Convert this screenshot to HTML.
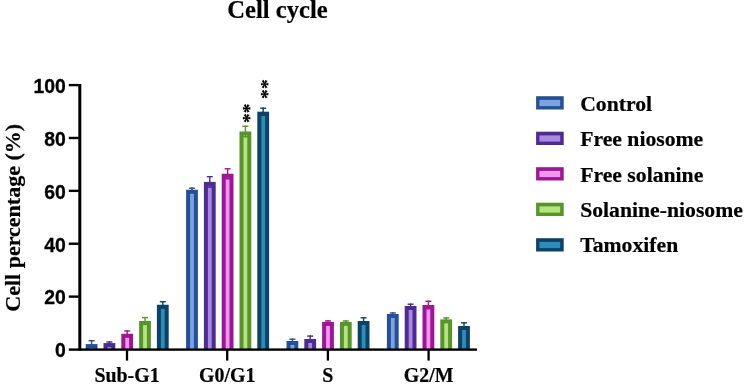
<!DOCTYPE html>
<html><head><meta charset="utf-8"><title>Cell cycle</title>
<style>
html,body{margin:0;padding:0;background:#fff;}
body{width:744px;height:385px;overflow:hidden;}
svg{display:block;will-change:transform;}
.serif{font-family:"Liberation Serif",serif;font-weight:bold;fill:#000;stroke:#000;stroke-width:0.2px;}
.sans{font-family:"Liberation Sans",sans-serif;font-weight:bold;fill:#000;stroke:#000;stroke-width:0.3px;}
</style></head><body>
<svg width="744" height="385" viewBox="0 0 744 385">
<rect width="744" height="385" fill="#fff"/>
<text x="277.5" y="17.6" text-anchor="middle" class="serif" font-size="24.6">Cell cycle</text>
<text transform="translate(19.6,217.8) rotate(-90)" text-anchor="middle" class="serif" font-size="22">Cell percentage (%)</text>
<rect x="90.90" y="340.00" width="1.4" height="5.10" fill="#254F99"/>
<rect x="88.60" y="340.00" width="6" height="1.4" fill="#254F99"/>
<rect x="85.70" y="344.10" width="11.80" height="5.40" fill="#254F99"/>
<rect x="89.70" y="348.10" width="3.80" height="1.40" fill="#7BA4E1"/>
<rect x="90.90" y="344.10" width="1.4" height="4.10" fill="#254F99"/>
<rect x="88.60" y="346.80" width="6" height="1.4" fill="#254F99"/>
<rect x="108.70" y="341.25" width="1.4" height="2.85" fill="#4D2B92"/>
<rect x="106.40" y="341.25" width="6" height="1.4" fill="#4D2B92"/>
<rect x="103.50" y="343.10" width="11.80" height="6.40" fill="#4D2B92"/>
<rect x="107.50" y="347.10" width="3.80" height="2.40" fill="#A78ADD"/>
<rect x="108.70" y="343.10" width="1.4" height="1.85" fill="#4D2B92"/>
<rect x="106.40" y="343.55" width="6" height="1.4" fill="#4D2B92"/>
<rect x="126.50" y="330.25" width="1.4" height="4.50" fill="#9D1795"/>
<rect x="124.20" y="330.25" width="6" height="1.4" fill="#9D1795"/>
<rect x="121.30" y="333.75" width="11.80" height="15.75" fill="#9D1795"/>
<rect x="125.30" y="337.75" width="3.80" height="11.75" fill="#F096F1"/>
<rect x="126.50" y="333.75" width="1.4" height="3.50" fill="#9D1795"/>
<rect x="124.20" y="335.85" width="6" height="1.4" fill="#9D1795"/>
<rect x="144.30" y="316.90" width="1.4" height="5.10" fill="#57952A"/>
<rect x="142.00" y="316.90" width="6" height="1.4" fill="#57952A"/>
<rect x="139.10" y="321.00" width="11.80" height="28.50" fill="#57952A"/>
<rect x="143.10" y="325.00" width="3.80" height="24.50" fill="#B4E482"/>
<rect x="144.30" y="321.00" width="1.4" height="4.10" fill="#57952A"/>
<rect x="142.00" y="323.70" width="6" height="1.4" fill="#57952A"/>
<rect x="162.10" y="301.00" width="1.4" height="4.75" fill="#0C4267"/>
<rect x="159.80" y="301.00" width="6" height="1.4" fill="#0C4267"/>
<rect x="156.90" y="304.75" width="11.80" height="44.75" fill="#0C4267"/>
<rect x="160.90" y="308.75" width="3.80" height="40.75" fill="#2C8DB8"/>
<rect x="162.10" y="304.75" width="1.4" height="3.75" fill="#0C4267"/>
<rect x="159.80" y="307.10" width="6" height="1.4" fill="#0C4267"/>
<rect x="191.30" y="187.50" width="1.4" height="3.25" fill="#254F99"/>
<rect x="189.00" y="187.50" width="6" height="1.4" fill="#254F99"/>
<rect x="186.10" y="189.75" width="11.80" height="159.75" fill="#254F99"/>
<rect x="190.10" y="193.75" width="3.80" height="155.75" fill="#7BA4E1"/>
<rect x="191.30" y="189.75" width="1.4" height="2.25" fill="#254F99"/>
<rect x="189.00" y="190.60" width="6" height="1.4" fill="#254F99"/>
<rect x="209.10" y="176.00" width="1.4" height="6.90" fill="#4D2B92"/>
<rect x="206.80" y="176.00" width="6" height="1.4" fill="#4D2B92"/>
<rect x="203.90" y="181.90" width="11.80" height="167.60" fill="#4D2B92"/>
<rect x="207.90" y="185.90" width="3.80" height="163.60" fill="#A78ADD"/>
<rect x="209.10" y="181.90" width="1.4" height="5.90" fill="#4D2B92"/>
<rect x="206.80" y="186.40" width="6" height="1.4" fill="#4D2B92"/>
<rect x="226.90" y="168.10" width="1.4" height="6.65" fill="#9D1795"/>
<rect x="224.60" y="168.10" width="6" height="1.4" fill="#9D1795"/>
<rect x="221.70" y="173.75" width="11.80" height="175.75" fill="#9D1795"/>
<rect x="225.70" y="177.75" width="3.80" height="171.75" fill="#F096F1"/>
<rect x="226.90" y="173.75" width="1.4" height="5.65" fill="#9D1795"/>
<rect x="224.60" y="178.00" width="6" height="1.4" fill="#9D1795"/>
<rect x="244.70" y="125.60" width="1.4" height="6.90" fill="#57952A"/>
<rect x="242.40" y="125.60" width="6" height="1.4" fill="#57952A"/>
<rect x="239.50" y="131.50" width="11.80" height="218.00" fill="#57952A"/>
<rect x="243.50" y="135.50" width="3.80" height="214.00" fill="#B4E482"/>
<rect x="244.70" y="131.50" width="1.4" height="5.90" fill="#57952A"/>
<rect x="242.40" y="136.00" width="6" height="1.4" fill="#57952A"/>
<rect x="262.50" y="107.50" width="1.4" height="5.20" fill="#0C4267"/>
<rect x="260.20" y="107.50" width="6" height="1.4" fill="#0C4267"/>
<rect x="257.30" y="111.70" width="11.80" height="237.80" fill="#0C4267"/>
<rect x="261.30" y="115.70" width="3.80" height="233.80" fill="#2C8DB8"/>
<rect x="262.50" y="111.70" width="1.4" height="4.20" fill="#0C4267"/>
<rect x="260.20" y="114.50" width="6" height="1.4" fill="#0C4267"/>
<rect x="291.70" y="338.50" width="1.4" height="3.50" fill="#254F99"/>
<rect x="289.40" y="338.50" width="6" height="1.4" fill="#254F99"/>
<rect x="286.50" y="341.00" width="11.80" height="8.50" fill="#254F99"/>
<rect x="290.50" y="345.00" width="3.80" height="4.50" fill="#7BA4E1"/>
<rect x="291.70" y="341.00" width="1.4" height="2.50" fill="#254F99"/>
<rect x="289.40" y="342.10" width="6" height="1.4" fill="#254F99"/>
<rect x="309.50" y="335.40" width="1.4" height="4.60" fill="#4D2B92"/>
<rect x="307.20" y="335.40" width="6" height="1.4" fill="#4D2B92"/>
<rect x="304.30" y="339.00" width="11.80" height="10.50" fill="#4D2B92"/>
<rect x="308.30" y="343.00" width="3.80" height="6.50" fill="#A78ADD"/>
<rect x="309.50" y="339.00" width="1.4" height="3.60" fill="#4D2B92"/>
<rect x="307.20" y="341.20" width="6" height="1.4" fill="#4D2B92"/>
<rect x="327.30" y="320.25" width="1.4" height="2.65" fill="#9D1795"/>
<rect x="325.00" y="320.25" width="6" height="1.4" fill="#9D1795"/>
<rect x="322.10" y="321.90" width="11.80" height="27.60" fill="#9D1795"/>
<rect x="326.10" y="325.90" width="3.80" height="23.60" fill="#F096F1"/>
<rect x="327.30" y="321.90" width="1.4" height="1.65" fill="#9D1795"/>
<rect x="325.00" y="322.15" width="6" height="1.4" fill="#9D1795"/>
<rect x="345.10" y="320.25" width="1.4" height="2.65" fill="#57952A"/>
<rect x="342.80" y="320.25" width="6" height="1.4" fill="#57952A"/>
<rect x="339.90" y="321.90" width="11.80" height="27.60" fill="#57952A"/>
<rect x="343.90" y="325.90" width="3.80" height="23.60" fill="#B4E482"/>
<rect x="345.10" y="321.90" width="1.4" height="1.65" fill="#57952A"/>
<rect x="342.80" y="322.15" width="6" height="1.4" fill="#57952A"/>
<rect x="362.90" y="317.10" width="1.4" height="4.90" fill="#0C4267"/>
<rect x="360.60" y="317.10" width="6" height="1.4" fill="#0C4267"/>
<rect x="357.70" y="321.00" width="11.80" height="28.50" fill="#0C4267"/>
<rect x="361.70" y="325.00" width="3.80" height="24.50" fill="#2C8DB8"/>
<rect x="362.90" y="321.00" width="1.4" height="3.90" fill="#0C4267"/>
<rect x="360.60" y="323.50" width="6" height="1.4" fill="#0C4267"/>
<rect x="392.10" y="312.25" width="1.4" height="2.75" fill="#254F99"/>
<rect x="389.80" y="312.25" width="6" height="1.4" fill="#254F99"/>
<rect x="386.90" y="314.00" width="11.80" height="35.50" fill="#254F99"/>
<rect x="390.90" y="318.00" width="3.80" height="31.50" fill="#7BA4E1"/>
<rect x="392.10" y="314.00" width="1.4" height="1.75" fill="#254F99"/>
<rect x="389.80" y="314.35" width="6" height="1.4" fill="#254F99"/>
<rect x="409.90" y="303.50" width="1.4" height="3.50" fill="#4D2B92"/>
<rect x="407.60" y="303.50" width="6" height="1.4" fill="#4D2B92"/>
<rect x="404.70" y="306.00" width="11.80" height="43.50" fill="#4D2B92"/>
<rect x="408.70" y="310.00" width="3.80" height="39.50" fill="#A78ADD"/>
<rect x="409.90" y="306.00" width="1.4" height="2.50" fill="#4D2B92"/>
<rect x="407.60" y="307.10" width="6" height="1.4" fill="#4D2B92"/>
<rect x="427.70" y="300.60" width="1.4" height="5.40" fill="#9D1795"/>
<rect x="425.40" y="300.60" width="6" height="1.4" fill="#9D1795"/>
<rect x="422.50" y="305.00" width="11.80" height="44.50" fill="#9D1795"/>
<rect x="426.50" y="309.00" width="3.80" height="40.50" fill="#F096F1"/>
<rect x="427.70" y="305.00" width="1.4" height="4.40" fill="#9D1795"/>
<rect x="425.40" y="308.00" width="6" height="1.4" fill="#9D1795"/>
<rect x="445.50" y="317.25" width="1.4" height="3.15" fill="#57952A"/>
<rect x="443.20" y="317.25" width="6" height="1.4" fill="#57952A"/>
<rect x="440.30" y="319.40" width="11.80" height="30.10" fill="#57952A"/>
<rect x="444.30" y="323.40" width="3.80" height="26.10" fill="#B4E482"/>
<rect x="445.50" y="319.40" width="1.4" height="2.15" fill="#57952A"/>
<rect x="443.20" y="320.15" width="6" height="1.4" fill="#57952A"/>
<rect x="463.30" y="322.10" width="1.4" height="4.90" fill="#0C4267"/>
<rect x="461.00" y="322.10" width="6" height="1.4" fill="#0C4267"/>
<rect x="458.10" y="326.00" width="11.80" height="23.50" fill="#0C4267"/>
<rect x="462.10" y="330.00" width="3.80" height="19.50" fill="#2C8DB8"/>
<rect x="463.30" y="326.00" width="1.4" height="3.90" fill="#0C4267"/>
<rect x="461.00" y="328.50" width="6" height="1.4" fill="#0C4267"/>
<rect x="78.3" y="84" width="3" height="266.7" fill="#000"/>
<rect x="68.8" y="348.4" width="408.2" height="2.4" fill="#000"/>
<text x="65.9" y="357.30" text-anchor="end" class="sans" font-size="19.4">0</text>
<rect x="68.8" y="295.42" width="10" height="2.4" fill="#000"/>
<text x="65.9" y="304.42" text-anchor="end" class="sans" font-size="19.4">20</text>
<rect x="68.8" y="242.54" width="10" height="2.4" fill="#000"/>
<text x="65.9" y="251.54" text-anchor="end" class="sans" font-size="19.4">40</text>
<rect x="68.8" y="189.66" width="10" height="2.4" fill="#000"/>
<text x="65.9" y="198.66" text-anchor="end" class="sans" font-size="19.4">60</text>
<rect x="68.8" y="136.78" width="10" height="2.4" fill="#000"/>
<text x="65.9" y="145.78" text-anchor="end" class="sans" font-size="19.4">80</text>
<rect x="68.8" y="83.90" width="10" height="2.4" fill="#000"/>
<text x="65.9" y="92.90" text-anchor="end" class="sans" font-size="19.4">100</text>
<rect x="125.85" y="350" width="2.3" height="10.6" fill="#000"/>
<text x="127.00" y="381.8" text-anchor="middle" class="serif" font-size="19.9">Sub-G1</text>
<rect x="226.05" y="350" width="2.3" height="10.6" fill="#000"/>
<text x="227.20" y="381.8" text-anchor="middle" class="serif" font-size="19.9">G0/G1</text>
<rect x="326.75" y="350" width="2.3" height="10.6" fill="#000"/>
<text x="327.90" y="381.8" text-anchor="middle" class="serif" font-size="19.9">S</text>
<rect x="427.45" y="350" width="2.3" height="10.6" fill="#000"/>
<text x="428.60" y="381.8" text-anchor="middle" class="serif" font-size="19.9">G2/M</text>
<text transform="translate(255.7,123.1) rotate(-90)" class="serif" font-size="19.6" stroke="#000" stroke-width="0.35">**</text>
<text transform="translate(274.4,98.9) rotate(-90)" class="serif" font-size="19.6" stroke="#000" stroke-width="0.35">**</text>
<rect x="536.1" y="96.20" width="27.6" height="13.3" fill="#254F99"/>
<rect x="539.4" y="99.90" width="20.8" height="6.2" fill="#7BA4E1"/>
<text x="580.2" y="110.80" class="serif" font-size="21.7">Control</text>
<rect x="536.1" y="131.70" width="27.6" height="13.3" fill="#4D2B92"/>
<rect x="539.4" y="135.40" width="20.8" height="6.2" fill="#A78ADD"/>
<text x="580.2" y="146.20" class="serif" font-size="21.7">Free niosome</text>
<rect x="536.1" y="167.20" width="27.6" height="13.3" fill="#9D1795"/>
<rect x="539.4" y="170.90" width="20.8" height="6.2" fill="#F096F1"/>
<text x="580.2" y="181.60" class="serif" font-size="21.7">Free solanine</text>
<rect x="536.1" y="202.70" width="27.6" height="13.3" fill="#57952A"/>
<rect x="539.4" y="206.40" width="20.8" height="6.2" fill="#B4E482"/>
<text x="580.2" y="217.00" class="serif" font-size="21.7">Solanine-niosome</text>
<rect x="536.1" y="238.20" width="27.6" height="13.3" fill="#0C4267"/>
<rect x="539.4" y="241.90" width="20.8" height="6.2" fill="#2C8DB8"/>
<text x="580.2" y="252.40" class="serif" font-size="21.7">Tamoxifen</text>
</svg>
</body></html>
